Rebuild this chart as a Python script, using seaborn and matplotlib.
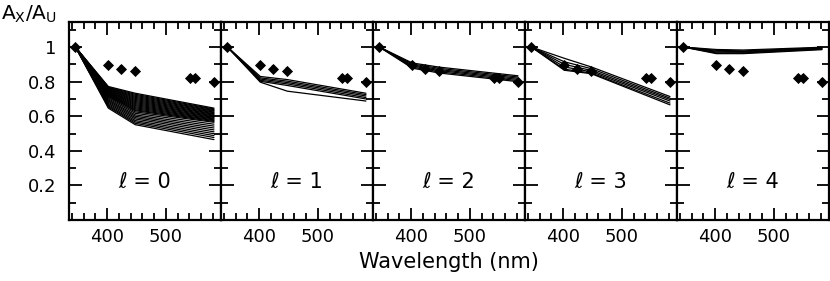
import matplotlib
matplotlib.use("Agg")
import matplotlib.pyplot as plt
import numpy as np
import pandas as pd
import seaborn as sns
from matplotlib.ticker import FixedLocator, MultipleLocator, FuncFormatter

# ---------------- data ----------------
# observed points
OBS_WAVE = [346, 402, 423, 448, 541, 550, 582]
OBS_VAL = [1.0, 0.896, 0.872, 0.864, 0.823, 0.823, 0.800]
OBS_ERR = [0.012, 0.025, 0.022, 0.022, 0.022, 0.022, 0.022]

# model curves: value 1.0 at 346 nm, then values at 402, 448, 582 nm
MODEL_WAVE = [346, 402, 448, 582]
ANCHOR = 1.0
ELL_LABELS = ["0", "1", "2", "3", "4"]

L0_402 = [0.772, 0.768, 0.765, 0.761, 0.758, 0.755, 0.751, 0.748, 0.744, 0.741,
          0.738, 0.734, 0.731, 0.727, 0.724, 0.721, 0.717, 0.714,
          0.708, 0.701, 0.694, 0.688, 0.681, 0.674, 0.667, 0.660, 0.654, 0.647]
L0_448 = [0.733, 0.727, 0.721, 0.715, 0.709, 0.703, 0.697, 0.691, 0.685, 0.679,
          0.673, 0.667, 0.661, 0.655, 0.649, 0.643, 0.637, 0.632,
          0.625, 0.617, 0.608, 0.600, 0.592, 0.584, 0.575, 0.567, 0.559, 0.551]
L0_582 = [0.647, 0.642, 0.638, 0.633, 0.629, 0.624, 0.620, 0.615, 0.611, 0.606,
          0.602, 0.597, 0.593, 0.588, 0.584, 0.579, 0.575, 0.570,
          0.565, 0.554, 0.543, 0.532, 0.521, 0.510, 0.499, 0.488, 0.477, 0.465]

L1_402 = [0.830, 0.822, 0.815, 0.808, 0.802, 0.797]
L1_448 = [0.812, 0.803, 0.795, 0.787, 0.778, 0.745]
L1_582 = [0.733, 0.725, 0.717, 0.708, 0.700, 0.688]

L2_402 = [0.908, 0.902, 0.896, 0.890, 0.884, 0.878]
L2_448 = [0.884, 0.877, 0.870, 0.864, 0.857, 0.850]
L2_582 = [0.834, 0.827, 0.820, 0.813, 0.806, 0.800]

L3_402 = [0.935, 0.915, 0.900, 0.885, 0.872, 0.866]
L3_448 = [0.885, 0.875, 0.865, 0.857, 0.850, 0.846]
L3_582 = [0.714, 0.705, 0.697, 0.688, 0.676, 0.666]

L4_402 = [0.986, 0.981, 0.976, 0.971, 0.966, 0.962]
L4_448 = [0.983, 0.978, 0.974, 0.970, 0.966, 0.962]
L4_582 = [0.999, 0.996, 0.993, 0.990, 0.988, 0.985]

PANELS = [(L0_402, L0_448, L0_582), (L1_402, L1_448, L1_582),
          (L2_402, L2_448, L2_582), (L3_402, L3_448, L3_582),
          (L4_402, L4_448, L4_582)]

rows = []
for p, (a, b, c) in enumerate(PANELS):
    for k in range(len(a)):
        for wl, v in zip(MODEL_WAVE, [ANCHOR, a[k], b[k], c[k]]):
            rows.append({"panel": p, "line": k, "wl": wl, "val": v})
model_df = pd.DataFrame(rows)
obs_df = pd.DataFrame({"wl": OBS_WAVE, "val": OBS_VAL, "err": OBS_ERR})

# ---------------- figure ----------------
sns.set_style("ticks")
plt.rcParams["font.family"] = ["DejaVu Sans"]
plt.rcParams["mathtext.fontset"] = "dejavusans"
plt.rcParams["text.color"] = "black"
plt.rcParams["axes.labelcolor"] = "black"
plt.rcParams["xtick.color"] = "black"
plt.rcParams["ytick.color"] = "black"

fig, axes = plt.subplots(1, 5, figsize=(8.3, 2.81), dpi=100, sharey=True)
fig.subplots_adjust(left=69 / 830, right=829 / 830, bottom=1 - 220 / 281,
                    top=1 - 22 / 281, wspace=0)

for p, ax in enumerate(axes):
    sub = model_df[model_df["panel"] == p]
    sns.lineplot(data=sub, x="wl", y="val", units="line", estimator=None,
                 color="black", lw=0.9, ax=ax, legend=False, sort=False)
    ax.errorbar(obs_df["wl"], obs_df["val"], yerr=obs_df["err"], fmt="none",
                ecolor="black", elinewidth=1.6, capsize=0, zorder=4)
    sns.scatterplot(data=obs_df, x="wl", y="val", marker="D", s=32,
                    color="black", edgecolor="black", linewidth=0, ax=ax,
                    zorder=5, legend=False)
    ax.set_xlim(335, 594)
    ax.set_ylim(0, 1.145)
    ax.set_xlabel("")
    ax.set_ylabel("")
    ax.xaxis.set_major_locator(FixedLocator([400, 500]))
    ax.xaxis.set_minor_locator(MultipleLocator(20))
    ax.yaxis.set_major_locator(FixedLocator([0.2, 0.4, 0.6, 0.8, 1.0]))
    ax.yaxis.set_minor_locator(MultipleLocator(0.1))
    ax.yaxis.set_major_formatter(FuncFormatter(lambda v, pos: "%g" % round(v, 2)))
    ax.tick_params(which="both", direction="in", top=True, right=True,
                   width=1.3, colors="black", labelsize=13, labelcolor="black")
    ax.tick_params(which="major", length=9)
    ax.tick_params(axis="x", which="major", pad=6)
    ax.tick_params(axis="y", which="major", pad=9)
    ax.tick_params(which="minor", length=5)
    for s in ax.spines.values():
        s.set_linewidth(1.6)
        s.set_color("black")
    ax.text(0.5, 0.19, "\u2113 = " + ELL_LABELS[p], transform=ax.transAxes,
            ha="center", va="center", fontsize=15, color="black")

fig.text(449 / 830, 1 - 262 / 281, "Wavelength (nm)", ha="center", va="center",
         fontsize=15, color="black")
fig.text(1 / 830, 1 - 20 / 281, r"$\mathregular{A_X/A_U}$", ha="left",
         va="baseline", fontsize=14.5, color="black")

fig.savefig("out.png", dpi=100, facecolor="white")
